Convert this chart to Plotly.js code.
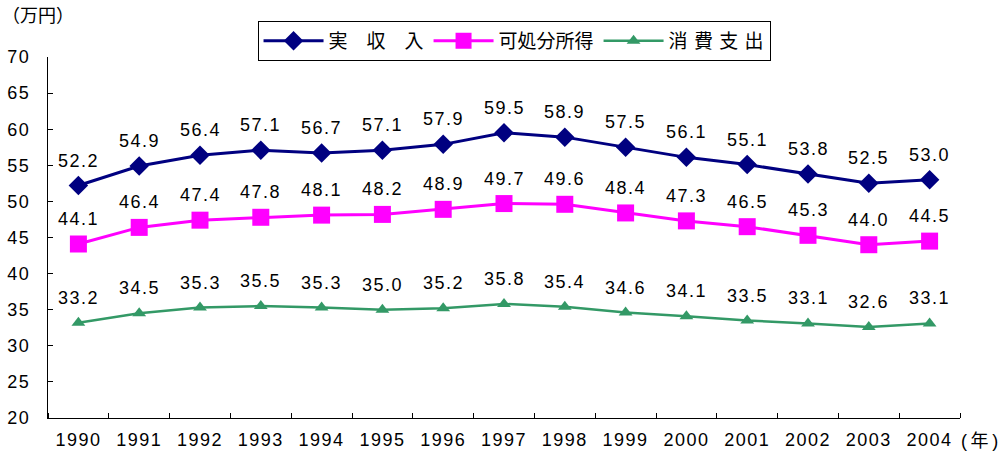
<!DOCTYPE html>
<html><head><meta charset="utf-8">
<script src="https://cdn.plot.ly/plotly-3.0.1.min.js"></script>
<style>body{margin:0;background:#fff}#c{width:1005px;height:452px}
#c .xtick text, #c .ytick text{letter-spacing:1.5px}
#c .annotation:not([data-index="45"]):not([data-index="46"]) text{letter-spacing:1.5px}</style>
</head><body><div id="c"></div>
<script>
const years = [1990,1991,1992,1993,1994,1995,1996,1997,1998,1999,2000,2001,2002,2003,2004];
const income = [52.2,54.9,56.4,57.1,56.7,57.1,57.9,59.5,58.9,57.5,56.1,55.1,53.8,52.5,53.0];
const disposable = [44.1,46.4,47.4,47.8,48.1,48.2,48.9,49.7,49.6,48.4,47.3,46.5,45.3,44.0,44.5];
const spending = [33.2,34.5,35.3,35.5,35.3,35.0,35.2,35.8,35.4,34.6,34.1,33.5,33.1,32.6,33.1];
const names = ['実　収　入','可処分所得','消\u2004費\u2004支\u2004出'];
const colors = ['#000080','#FF00FF','#339966'];

const font = 'Liberation Sans, Arial, "Noto Sans CJK JP", sans-serif';
const cjk = '"Noto Sans CJK JP", sans-serif';
const traces = [
  {x: years, y: income, name: names[0], mode:'lines+markers', line:{color:colors[0], width:3}, marker:{symbol:'diamond', size:15, color:colors[0]}},
  {x: years, y: disposable, name: names[1], mode:'lines+markers', line:{color:colors[1], width:3}, marker:{symbol:'square', size:17, color:colors[1]}},
  {x: years, y: spending, name: names[2], mode:'lines+markers', line:{color:colors[2], width:2.5}, marker:{symbol:'triangle-up', size:12, color:colors[2]}}
];
const annotations = [];
[income, disposable, spending].forEach(arr => arr.forEach((v,i) => {
  annotations.push({x: years[i], y: v, text: v.toFixed(1), showarrow:false, yshift:25, font:{size:18, color:'#000', family:font}});
}));
annotations.push({xref:'paper', yref:'paper', x:-0.053, y:1.12, xanchor:'left', yanchor:'middle', text:'（万円）', showarrow:false, font:{size:18, color:'#000', family:cjk}});
annotations.push({xref:'paper', yref:'paper', x:1.044, y:-0.063, xanchor:'right', yanchor:'middle', text:'(\u2009年\u2009)', showarrow:false, font:{size:18, color:'#000', family:font}});

const layout = {
  width:1005, height:452,
  margin:{l:48, r:45, t:57, b:34},
  paper_bgcolor:'#fff', plot_bgcolor:'#fff',
  font:{family:font, size:18, color:'#000'},
  showlegend:true,
  legend:{orientation:'h', x:0.511, xanchor:'center', y:1.10, yanchor:'top', bordercolor:'#000', borderwidth:1, bgcolor:'#fff',
          font:{size:19, family:cjk}, itemwidth:60, tracegroupgap:0},
  xaxis:{type:'linear', range:[1989.5,2004.5], tick0:1990, dtick:1, showline:true, linecolor:'#000', linewidth:1, ticks:'',
         minor:{ticks:'inside', ticklen:5, tickcolor:'#000', tick0:1989.5, dtick:1, showgrid:false},
         showgrid:false, zeroline:false, ticklabelstandoff:5, tickfont:{size:18}},
  yaxis:{range:[20,70], dtick:5, tick0:20, showline:true, linecolor:'#000', linewidth:1, ticks:'inside', ticklen:5, tickcolor:'#000',
         showgrid:false, zeroline:false, ticklabelstandoff:13, tickfont:{size:18}},
  annotations: annotations
};
Plotly.newPlot('c', traces, layout, {displayModeBar:false});
</script></body></html>
